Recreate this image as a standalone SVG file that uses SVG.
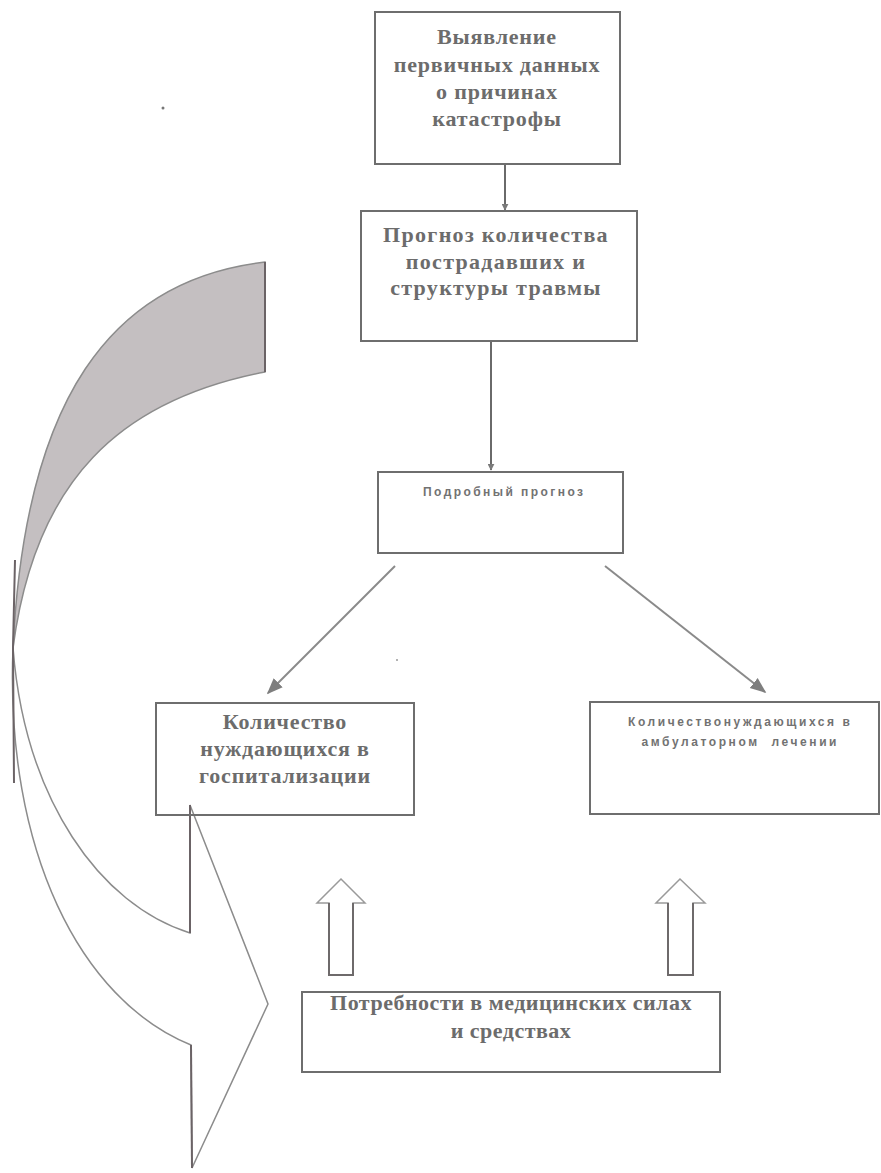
<svg xmlns="http://www.w3.org/2000/svg" width="881" height="1173" viewBox="0 0 881 1173">
<style>
.box{fill:none;stroke:#6e6e6e;stroke-width:2}
.t{font-family:"Liberation Serif","Times New Roman",serif;font-weight:bold;font-size:22px;fill:#6c6c6c;text-anchor:middle;letter-spacing:0.8px}
.s{font-family:"Liberation Sans",Arial,sans-serif;font-weight:bold;font-size:12px;fill:#727272;text-anchor:middle}
.ln{stroke:#6a6a6a;stroke-width:2;fill:none}
.dg{stroke:#8a8a8a;stroke-width:2;fill:none}
.edge{stroke:#8c8c8c;stroke-width:1.5}
.dark{stroke:#6b6366;stroke-width:2;fill:none}
.ua{fill:#fff;stroke:#9a9a9a;stroke-width:1.5}
.us{stroke:#6e6a6b;stroke-width:2;fill:none}
</style>
<defs>
<marker id="ah" viewBox="0 0 10 10" refX="9" refY="5" markerWidth="7" markerHeight="7" orient="auto" markerUnits="userSpaceOnUse">
<path d="M0,0 L10,5 L0,10 Z" fill="#7a7a7a"/>
</marker>
<marker id="ahb" viewBox="0 0 10 10" refX="9" refY="5" markerWidth="16" markerHeight="16" orient="auto" markerUnits="userSpaceOnUse">
<path d="M0,1 L10,5 L0,9 Z" fill="#7e7e7e"/>
</marker>
</defs>
<rect width="881" height="1173" fill="#fff"/>

<g id="curved-arrow">
<path d="M265,262 C110,280 25,400 13,648 C35,480 120,400 265,372 Z" fill="#c4bfc1" class="edge"/>
<path d="M13,648 C5,850 80,1000 191,1045 L192,1168 L268,1004 L190,805 L190,933 C100,905 25,800 13,648 Z" fill="#fff" class="edge"/>
<line x1="265" y1="262" x2="265" y2="372" class="dark"/>
<line x1="190" y1="805" x2="190" y2="933" class="dark"/>
<line x1="191" y1="1045" x2="192" y2="1168" class="dark"/>
<path d="M15,560 L13,648 L14,783" class="dark" stroke-width="1.5"/>
</g>

<g id="connectors">
<line x1="505" y1="164" x2="505" y2="210" class="ln" marker-end="url(#ah)"/>
<line x1="491" y1="341" x2="491" y2="470" class="ln" marker-end="url(#ah)"/>
<line x1="395" y1="566" x2="268" y2="693" class="dg" marker-end="url(#ahb)"/>
<line x1="605" y1="566" x2="765" y2="692" class="dg" marker-end="url(#ahb)"/>
</g>

<g id="n1">
<rect x="375" y="12" width="245" height="152" class="box"/>
<text class="t" x="497" y="44">Выявление</text>
<text class="t" x="497" y="72">первичных данных</text>
<text class="t" x="497" y="99">о причинах</text>
<text class="t" x="497" y="126">катастрофы</text>
</g>

<g id="n2">
<rect x="361" y="211" width="276" height="130" class="box"/>
<text class="t" x="496" y="242" style="letter-spacing:1.3px">Прогноз количества</text>
<text class="t" x="496" y="269" style="letter-spacing:1.3px">пострадавших и</text>
<text class="t" x="496" y="295" style="letter-spacing:1.3px">структуры травмы</text>
</g>

<g id="n3">
<rect x="378" y="472" width="245" height="81" class="box"/>
<text class="s" x="503" y="496" textLength="160" lengthAdjust="spacing">Подробный прогноз</text>
</g>

<g id="n4">
<rect x="156" y="703" width="258" height="112" class="box"/>
<text class="t" x="285" y="729">Количество</text>
<text class="t" x="285" y="756">нуждающихся в</text>
<text class="t" x="285" y="783">госпитализации</text>
</g>

<g id="n5">
<rect x="590" y="702" width="289" height="112" class="box"/>
<text class="s" x="739" y="726" textLength="222" lengthAdjust="spacing">Количествонуждающихся в</text>
<text class="s" x="739" y="746" textLength="195" lengthAdjust="spacing" xml:space="preserve">амбулаторном  лечении</text>
</g>

<g id="up-arrow-left">
<path d="M329,975 L329,903 L317,903 L341,879 L365,903 L353,903 L353,975 Z" class="ua"/>
<path d="M329,903 L329,975 L353,975 L353,903" class="us"/>
</g>
<g id="up-arrow-right">
<path d="M668,975 L668,903 L656,903 L680,879 L705,903 L693,903 L693,975 Z" class="ua"/>
<path d="M668,903 L668,975 L693,975 L693,903" class="us"/>
</g>

<g id="n6">
<rect x="302" y="992" width="418" height="80" class="box"/>
<text class="t" x="511" y="1010" style="letter-spacing:0.5px">Потребности в медицинских силах</text>
<text class="t" x="511" y="1038" style="letter-spacing:0.5px">и средствах</text>
</g>

<circle cx="163" cy="108" r="1.5" fill="#777"/>
<circle cx="397" cy="660" r="1" fill="#999"/>
</svg>
